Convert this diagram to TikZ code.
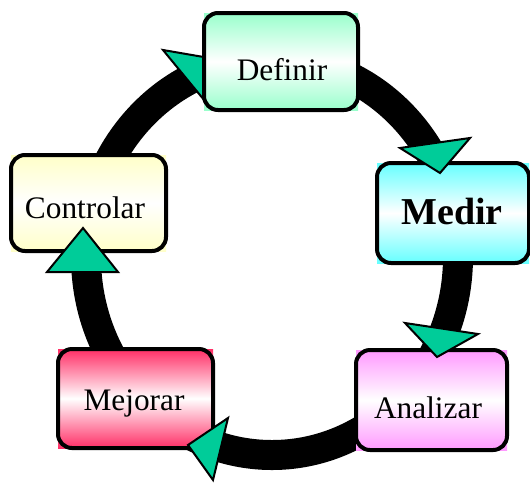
\documentclass[tikz,border=0pt]{standalone}
\usepackage{fontspec}
\setmainfont{Liberation Serif}
\begin{document}
\definecolor{mintc}{HTML}{99FFCC}
\definecolor{cyanc}{HTML}{66FFFF}
\definecolor{pinkc}{HTML}{FF99FF}
\definecolor{rosec}{HTML}{FF2E66}
\definecolor{creamc}{HTML}{FFFFC8}
\definecolor{headc}{HTML}{00CC99}
\begin{tikzpicture}[x=0.75pt,y=-0.75pt,
  ring/.style={line width=22.5pt,black},
  head/.style={fill=headc,draw=black,line width=1.5pt,line join=miter},
  frame/.style={draw=black,line width=3pt,rounded corners=10.5pt},
  lbl/.style={anchor=base,font=\fontsize{23.5}{27}\selectfont,inner sep=0pt},
  boldlbl/.style={lbl,font=\fontsize{28.5}{32}\selectfont\bfseries}]
\useasboundingbox (0,0) rectangle (530,483);

% the cycle ring
\draw[ring] (272,257) ellipse [x radius=186, y radius=198];

% arrowhead entering Definir (lies under its box)
\coordinate (dA) at (163,50);
\coordinate (dB) at (209,106);
\coordinate (dT) at (221,60);
\draw[head] (dA) -- (dB) -- (dT) -- cycle;

% boxes: gradient panel with a rounded frame on top
\newcommand{\stagebox}[5]{%
  \shade[top color=#5,bottom color=#5,middle color=white] (#1,#2) rectangle (#3,#4);
  \shade[top color=#5,bottom color=#5,middle color=white,frame] (#1,#2) rectangle (#3,#4);
}
\stagebox{204}{13}{358}{110}{mintc}
\stagebox{377}{163}{529}{263}{cyanc}
\stagebox{356}{350}{507}{450}{pinkc}
\stagebox{58}{349}{213}{448}{rosec}
\stagebox{11}{155}{166}{251}{creamc}

\node[lbl] (definir) at (282,80) {Definir};
\node[boldlbl] (medir) at (452,224) {Medir};
\node[lbl] (analizar) at (428,418) {Analizar};
\node[lbl] (mejorar) at (134,410) {Mejorar};
\node[lbl] (controlar) at (85,218) {Controlar};

% arrowheads along the ring, clockwise
\coordinate (mA) at (400,148);
\coordinate (mB) at (470,138);
\coordinate (mT) at (440,173);
\draw[head] (mA) -- (mB) -- (mT) -- cycle;

\coordinate (aA) at (405,323);
\coordinate (aB) at (478,334);
\coordinate (aT) at (437,357);
\draw[head] (aA) -- (aB) -- (aT) -- cycle;

\coordinate (jA) at (228,418);
\coordinate (jB) at (213,480);
\coordinate (jT) at (188,445);
\draw[head] (jA) -- (jB) -- (jT) -- cycle;

\coordinate (cA) at (47,272);
\coordinate (cB) at (118,272);
\coordinate (cT) at (83,228);
\draw[head] (cA) -- (cB) -- (cT) -- cycle;
\end{tikzpicture}
\end{document}
